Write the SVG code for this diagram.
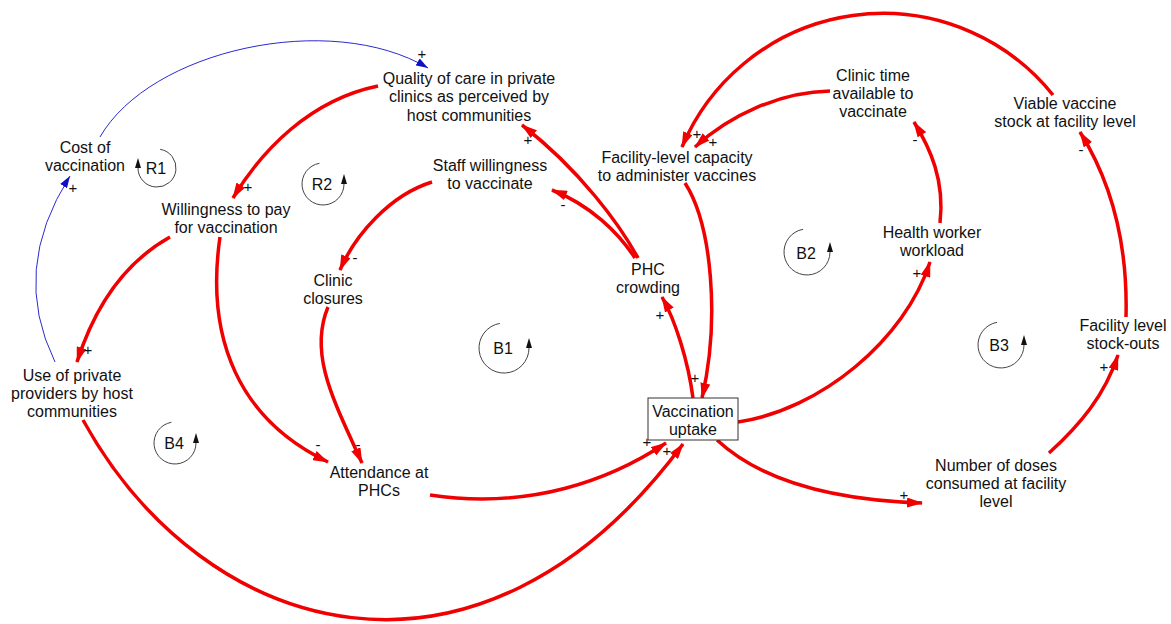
<svg xmlns="http://www.w3.org/2000/svg" width="1171" height="624" viewBox="0 0 1171 624">
<style>
.lbl{font-family:"Liberation Sans",Arial,sans-serif;font-size:16px;fill:#111;text-anchor:middle}
.sg{font-family:"Liberation Sans",Arial,sans-serif;font-size:15px;fill:#111;text-anchor:middle}
.c{fill:none;stroke:#f00000;stroke-width:3.5;marker-end:url(#ar)}
.b{fill:none;stroke:#2a2ad0;stroke-width:1;marker-end:url(#ab)}
.lp{fill:none;stroke:#444;stroke-width:1}
.lh{fill:#111}
</style>
<defs>
<marker id="ar" markerUnits="userSpaceOnUse" viewBox="0 0 16 10" refX="15" refY="5" markerWidth="16" markerHeight="10" orient="auto">
<path d="M0,0 L16,5 L0,10 z" fill="#f00000"/>
</marker>
<marker id="ab" markerUnits="userSpaceOnUse" viewBox="0 0 12 8" refX="12" refY="4" markerWidth="12" markerHeight="8" orient="auto">
<path d="M0,0 L12,4 L0,8 z" fill="#1010c8"/>
</marker>
</defs>
<rect width="1171" height="624" fill="#fff"/>
<g id="connectors">
<path class="b" d="M55,362 Q10,270 70,176"/>
<path class="b" d="M100,137 C150,50 330,10 428,68"/>
<path class="c" d="M378,86 C310,100 262,150 233,198"/>
<path class="c" d="M170,237 C120,265 92,315 77,362"/>
<path class="c" d="M220,237 C205,340 240,420 328,462"/>
<path class="c" d="M432,182 C390,195 355,235 340,270"/>
<path class="c" d="M328,307 C308,355 335,403 362,463"/>
<path class="c" d="M430,495 C530,510 610,480 666,443"/>
<path class="c" d="M83,420 C204,640 479,719 683,444"/>
<path class="c" d="M693,398 C688,360 675,320 662,297"/>
<path class="c" d="M685,183 C712,225 720,320 702,398"/>
<path class="c" d="M638,258 C620,225 580,170 522,125"/>
<path class="c" d="M635,258 C618,232 590,205 552,190"/>
<path class="c" d="M1053,95 A218,218 0 0 0 682,147"/>
<path class="c" d="M830,91 C780,92 730,115 695,147"/>
<path class="c" d="M940,223 C945,180 930,148 914,122"/>
<path class="c" d="M738,422 C820,410 905,340 930,262"/>
<path class="c" d="M717,440 C760,480 830,500 922,503"/>
<path class="c" d="M1049,453 C1080,425 1105,395 1118,355"/>
<path class="c" d="M1126,317 C1128,240 1110,180 1080,132"/>
</g>
<g id="polarities">
<text class="sg" x="73" y="193">+</text>
<text class="sg" x="422" y="59">+</text>
<text class="sg" x="248" y="192">+</text>
<text class="sg" x="88" y="355">+</text>
<text class="sg" x="318" y="450">-</text>
<text class="sg" x="355" y="263">-</text>
<text class="sg" x="358" y="450">-</text>
<text class="sg" x="528" y="145">+</text>
<text class="sg" x="563" y="210">-</text>
<text class="sg" x="697" y="139">+</text>
<text class="sg" x="713" y="147">+</text>
<text class="sg" x="915" y="145">-</text>
<text class="sg" x="1081" y="155">-</text>
<text class="sg" x="660" y="320">+</text>
<text class="sg" x="695" y="383">+</text>
<text class="sg" x="647" y="447">+</text>
<text class="sg" x="667" y="456">+</text>
<text class="sg" x="917" y="278">+</text>
<text class="sg" x="904" y="500">+</text>
<text class="sg" x="1104" y="372">+</text>
</g>
<g id="loops">
<g id="loop-R1"><path class="lp" d="M160.2,149.3 A19,19 0 1 1 138,168"/><polygon class="lh" points="138,158 135,168 141,168"/><text class="lbl" x="156" y="173.5">R1</text></g>
<g id="loop-R2"><path class="lp" d="M319.4,163.3 A21,21 0 1 0 344,184"/><polygon class="lh" points="344,174 341,184 347,184"/><text class="lbl" x="322" y="189.5">R2</text></g>
<g id="loop-B1"><path class="lp" d="M499.8,323.4 A25,25 0 1 0 529,348"/><polygon class="lh" points="529,338 526,348 532,348"/><text class="lbl" x="503" y="353.5">B1</text></g>
<g id="loop-B2"><path class="lp" d="M803.1,229.3 A23,23 0 1 0 830,252"/><polygon class="lh" points="830,242 827,252 833,252"/><text class="lbl" x="806" y="258.5">B2</text></g>
<g id="loop-B3"><path class="lp" d="M997.1,322.3 A23,23 0 1 0 1024,345"/><polygon class="lh" points="1024,335 1021,345 1027,345"/><text class="lbl" x="999" y="350.5">B3</text></g>
<g id="loop-B4"><path class="lp" d="M171.4,422.3 A21,21 0 1 0 196,443"/><polygon class="lh" points="196,433 193,443 199,443"/><text class="lbl" x="174" y="448.5">B4</text></g>
</g>
<g id="node-cost"><text class="lbl"><tspan x="85" y="152.5">Cost of</tspan><tspan x="85" y="170.5">vaccination</tspan></text></g>
<g id="node-quality"><text class="lbl"><tspan x="469" y="83.5">Quality of care in private</tspan><tspan x="469" y="102">clinics as perceived by</tspan><tspan x="469" y="120.5">host communities</tspan></text></g>
<g id="node-staff"><text class="lbl"><tspan x="490" y="170.5">Staff willingness</tspan><tspan x="490" y="188.5">to vaccinate</tspan></text></g>
<g id="node-capacity"><text class="lbl"><tspan x="677" y="163">Facility-level capacity</tspan><tspan x="677" y="181">to administer vaccines</tspan></text></g>
<g id="node-clinictime"><text class="lbl"><tspan x="873" y="80.5">Clinic time</tspan><tspan x="873" y="98.5">available to</tspan><tspan x="873" y="117">vaccinate</tspan></text></g>
<g id="node-viable"><text class="lbl"><tspan x="1065" y="108.5">Viable vaccine</tspan><tspan x="1065" y="127">stock at facility level</tspan></text></g>
<g id="node-wtp"><text class="lbl"><tspan x="226" y="214.5">Willingness to pay</tspan><tspan x="226" y="232.5">for vaccination</tspan></text></g>
<g id="node-closures"><text class="lbl"><tspan x="333" y="285.5">Clinic</tspan><tspan x="333" y="303.5">closures</tspan></text></g>
<g id="node-crowding"><text class="lbl"><tspan x="648" y="274.5">PHC</tspan><tspan x="648" y="292.5">crowding</tspan></text></g>
<g id="node-workload"><text class="lbl"><tspan x="932" y="237.5">Health worker</tspan><tspan x="932" y="255.5">workload</tspan></text></g>
<g id="node-private"><text class="lbl"><tspan x="72" y="380.5">Use of private</tspan><tspan x="72" y="398.5">providers by host</tspan><tspan x="72" y="416.5">communities</tspan></text></g>
<g id="node-attendance"><text class="lbl"><tspan x="379" y="477.5">Attendance at</tspan><tspan x="379" y="496">PHCs</tspan></text></g>
<g id="node-uptake"><rect x="648" y="398" width="90" height="42" fill="#fff" stroke="#333" stroke-width="1"/><text class="lbl"><tspan x="693" y="416.5">Vaccination</tspan><tspan x="693" y="434.5">uptake</tspan></text></g>
<g id="node-doses"><text class="lbl"><tspan x="996" y="470.5">Number of doses</tspan><tspan x="996" y="488.5">consumed at facility</tspan><tspan x="996" y="507">level</tspan></text></g>
<g id="node-stockouts"><text class="lbl"><tspan x="1123" y="330.5">Facility level</tspan><tspan x="1123" y="348.5">stock-outs</tspan></text></g>
</svg>
